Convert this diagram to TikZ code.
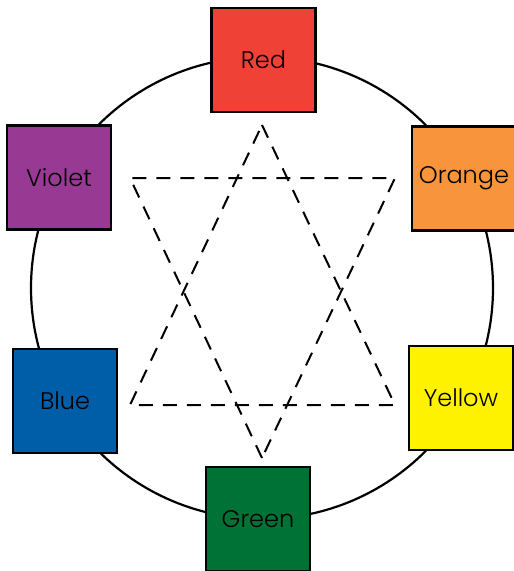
\documentclass[tikz,border=0pt]{standalone}
\usepackage{fontspec}
\setmainfont{Poppins}[UprightFont=* Light]
\usetikzlibrary{positioning}

\definecolor{wheelred}{RGB}{240,65,54}
\definecolor{wheelorange}{RGB}{247,148,60}
\definecolor{wheelyellow}{RGB}{255,242,0}
\definecolor{wheelgreen}{RGB}{0,114,54}
\definecolor{wheelblue}{RGB}{0,94,168}
\definecolor{wheelviolet}{RGB}{152,58,148}

\begin{document}
\begin{tikzpicture}[
  x=1pt, y=-1pt,
  swatch/.style={rectangle, draw=black, line width=2.6pt, minimum size=104pt,
                 inner sep=0pt, font=\fontsize{24}{28}\selectfont, text=black},
  wheel/.style={draw=black, line width=2.2pt},
  tri/.style={draw=black, line width=2pt, dash pattern=on 14pt off 10pt}
]
\useasboundingbox (0,0) rectangle (514,571);

\draw[wheel] (262,288) circle[radius=231];

% star of two triangles
\coordinate (up)  at (262,125);
\coordinate (upl) at (130,405);
\coordinate (upr) at (395,405);
\coordinate (dn)  at (262,458);
\coordinate (dnl) at (130,178);
\coordinate (dnr) at (395,178);

\draw[tri] (up) -- (upr) -- (upl) -- cycle;
\draw[tri] (dn) -- (dnl) -- (dnr) -- cycle;

% colour swatches
\node[swatch, fill=wheelred]    (red)    at (263.5,60)  {Red};
\node[swatch, fill=wheelorange] (orange) at (464,178.5) {Orange};
\node[swatch, fill=wheelyellow] (yellow) at (461,398)   {Yellow};
\node[swatch, fill=wheelgreen]  (green)  at (258,519)   {Green};
\node[swatch, fill=wheelblue]   (blue)   at (65,401)    {Blue};
\node[swatch, fill=wheelviolet] (violet) at (59,177.5)  {Violet};

\end{tikzpicture}
\end{document}
